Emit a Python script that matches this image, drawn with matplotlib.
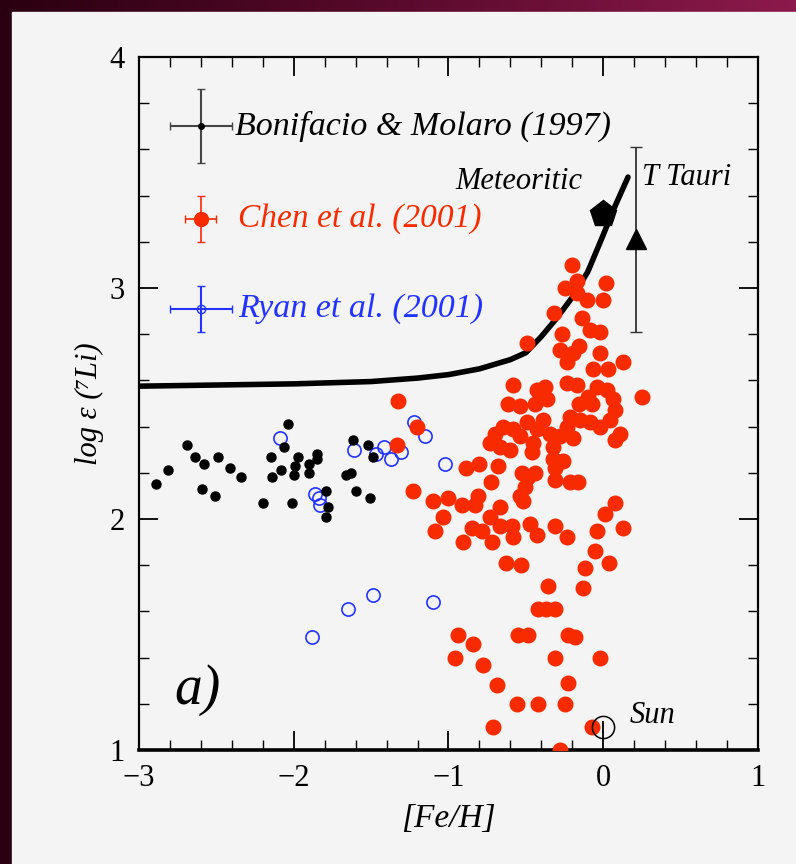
import numpy as np
import matplotlib.pyplot as plt

# Bonifacio & Molaro (1997) halo stars
bm_feh = [-2.89, -2.81, -2.69, -2.64, -2.58, -2.59, -2.51, -2.49, -2.41, -2.34,
          -2.20, -2.15, -2.14, -2.08, -2.06, -2.04, -2.01, -2.00, -1.99, -1.97,
          -1.90, -1.90, -1.85, -1.85, -1.79, -1.78, -1.79, -1.66, -1.63, -1.62,
          -1.60, -1.52, -1.51, -1.49]
bm_li = [2.15, 2.21, 2.32, 2.27, 2.24, 2.13, 2.10, 2.27, 2.22, 2.18,
         2.07, 2.27, 2.18, 2.21, 2.31, 2.41, 2.07, 2.19, 2.23, 2.27,
         2.24, 2.20, 2.28, 2.26, 2.12, 2.05, 2.01, 2.19, 2.20, 2.34,
         2.12, 2.32, 2.09, 2.27]

# Ryan et al. (2001)
ryan_feh = [-2.09, -1.86, -1.84, -1.83, -1.61, -1.47, -1.42, -1.37, -1.31, -1.22,
            -1.15, -1.02, -1.88, -1.65, -1.49, -1.10]
ryan_li = [2.35, 2.11, 2.09, 2.06, 2.30, 2.28, 2.31, 2.26, 2.29, 2.42,
           2.36, 2.24, 1.49, 1.61, 1.67, 1.64]

# Chen et al. (2001) disk stars
chen_feh = [-0.200, -0.168, -0.246, -0.168, -0.103, 0.019, 0.000, -0.317, -0.136, -0.084,
            -0.019, -0.265, -0.491, -0.155, -0.019, -0.278, -0.233, -0.194, 0.129, -0.065,
            0.032, -1.325, -0.582, -0.614, -0.536, -0.426, -0.375, -0.439, -0.362, -0.233,
            -0.168, -0.155, -0.097, -0.039, 0.026, 0.065, 0.078, 0.045, 0.110, 0.078,
            -0.019, -0.084, -0.149, -0.213, -0.233, -0.278, -0.194, -0.342, -0.388, -0.426,
            -0.491, -0.536, -0.582, -0.646, -0.698, -0.730, -0.666, -0.601, -0.459, -0.452,
            -0.323, 0.252, -1.202, -1.331, -0.071, -0.885, -0.801, -0.679, -0.724, -0.523,
            -0.485, -0.439, -0.504, -0.536, -0.323, -0.258, -0.310, -0.213, -0.162, -1.228,
            -1.099, -1.002, -0.911, -0.827, -0.808, -1.034, -1.086, -0.905, -0.847, -0.782,
            -0.730, -0.666, -0.666, -0.717, -0.588, -0.582, -0.472, -0.426, -0.310, -0.233,
            0.078, 0.013, -0.039, 0.129, -0.052, 0.039, -0.116, -0.129, -0.627, -0.530,
            -0.355, -0.517, -0.310, -0.420, -0.368, -0.310, -0.937, -0.840, -0.956, -0.775,
            -0.549, -0.485, -0.226, -0.181, -0.310, -0.019, -0.226, -0.685, -0.556, -0.420,
            -0.246, -0.711, -0.071, -0.278]
chen_li = [3.10, 3.03, 3.00, 2.98, 2.95, 3.02, 2.95, 2.89, 2.87, 2.82,
           2.81, 2.80, 2.76, 2.75, 2.72, 2.73, 2.68, 2.72, 2.68, 2.65,
           2.65, 2.51, 2.58, 2.50, 2.49, 2.56, 2.57, 2.50, 2.52, 2.59,
           2.58, 2.50, 2.53, 2.57, 2.56, 2.52, 2.47, 2.43, 2.37, 2.34,
           2.40, 2.42, 2.43, 2.44, 2.40, 2.36, 2.35, 2.37, 2.43, 2.39,
           2.42, 2.36, 2.39, 2.40, 2.37, 2.33, 2.31, 2.30, 2.29, 2.33,
           2.31, 2.53, 2.40, 2.32, 2.50, 2.22, 2.24, 2.23, 2.16, 2.20,
           2.18, 2.20, 2.14, 2.10, 2.26, 2.25, 2.17, 2.16, 2.16, 2.12,
           2.08, 2.09, 2.06, 2.06, 2.10, 2.01, 1.95, 1.90, 1.96, 1.95,
           2.01, 2.05, 1.97, 1.90, 1.97, 1.92, 1.98, 1.93, 1.97, 1.92,
           2.07, 2.02, 1.95, 1.96, 1.86, 1.81, 1.79, 1.70, 1.81, 1.80,
           1.71, 2.08, 2.22, 1.61, 1.61, 1.61, 1.50, 1.46, 1.40, 1.37,
           1.50, 1.50, 1.50, 1.49, 1.40, 1.40, 1.29, 1.28, 1.20, 1.20,
           1.20, 1.10, 1.10, 1.00]

# galactic evolution model curve
model_feh = [-3.0, -2.5, -2.0, -1.5, -1.2, -1.0, -0.8, -0.6, -0.5, -0.4,
             -0.3, -0.2, -0.1, 0.0, 0.06, 0.16]
model_li = [2.575, 2.58, 2.585, 2.595, 2.61, 2.625, 2.65, 2.69, 2.72, 2.79,
            2.87, 2.96, 3.07, 3.23, 3.33, 3.48]

meteor_feh, meteor_li = 0.0, 3.32
ttauri_feh, ttauri_li, ttauri_err = 0.21, 3.21, 0.40
sun_feh, sun_li = 0.0, 1.10

RED = '#f82a00'
BLUE = '#2233ff'
PANEL = '#f4f4f4'

fig = plt.figure(figsize=(7.96, 8.64), dpi=100)
fig.patch.set_facecolor('#3d0519')

# dark gradient frame behind the white panel
bg = fig.add_axes([0, 0, 1, 1], zorder=-10)
grad = np.linspace(0, 1, 256)[None, :]
bg.imshow(grad, aspect='auto', cmap=plt.matplotlib.colors.LinearSegmentedColormap.from_list(
    'frame', ['#2a0010', '#5a0a2c', '#8c1a4c']), extent=[0, 1, 0, 1])
bg.add_patch(plt.Rectangle((12 / 796, 0), 1, 1 - 12 / 864, color=PANEL,
                           transform=bg.transAxes))
bg.set_xlim(0, 1)
bg.set_ylim(0, 1)
bg.axis('off')

ax = fig.add_axes([139 / 796, 114 / 864, 619 / 796, 693 / 864])
ax.set_facecolor(PANEL)

ax.plot(model_feh, model_li, color='black', lw=4.0, solid_capstyle='round', zorder=3)

ax.plot(ryan_feh, ryan_li, 'o', ms=9.5, mfc='none', mec=BLUE, mew=1.2, zorder=4)
ax.plot(chen_feh, chen_li, 'o', ms=10.5, color=RED, zorder=5)
ax.plot(bm_feh, bm_li, 'o', ms=6.5, color='black', zorder=6)

ax.plot(meteor_feh, meteor_li, 'p', ms=20, color='black', zorder=7)
ax.errorbar(ttauri_feh, ttauri_li, yerr=ttauri_err, fmt='^', ms=15, color='black',
            ecolor='#333333', elinewidth=1.3, capsize=4, zorder=7)
ax.plot(sun_feh, sun_li, 'o', ms=16, mfc='none', mec='black', mew=1.1, zorder=7)
ax.plot(sun_feh, sun_li, '|', ms=9, mew=1.3, color='black', zorder=7)

# legend drawn as sample error crosses
ax.errorbar(-2.6, 3.70, xerr=0.2, yerr=0.16, fmt='o', ms=4, color='black',
            ecolor='#444444', elinewidth=1.5, capsize=3, zorder=6)
ax.errorbar(-2.6, 3.30, xerr=0.1, yerr=0.1, fmt='o', ms=10, color=RED,
            elinewidth=1.2, capsize=3, zorder=6)
ax.errorbar(-2.6, 2.91, xerr=0.2, yerr=0.1, fmt='o', ms=6, mfc='none', mec=BLUE,
            color=BLUE, elinewidth=1.5, capsize=3, zorder=6)

tfont = dict(family='Liberation Serif', style='italic')
ax.text(-2.38, 3.70, 'Bonifacio & Molaro (1997)', fontsize=24.5, va='center', **tfont)
ax.text(-2.36, 3.30, 'Chen et al. (2001)', fontsize=24, va='center', color=RED, **tfont)
ax.text(-2.36, 2.91, 'Ryan et al. (2001)', fontsize=24.5, va='center', color=BLUE, **tfont)
ax.text(-0.956, 3.46, 'Meteoritic', fontsize=22, va='center', **tfont)
ax.text(0.25, 3.48, 'T Tauri', fontsize=22, va='center', **tfont)
ax.text(0.17, 1.15, 'Sun', fontsize=22, va='center', **tfont)
ax.text(-2.62, 1.26, 'a)', fontsize=40, ha='center', va='center', **tfont)

ax.set_xlim(-3, 1)
ax.set_ylim(1, 4)
ax.set_xticks([-3, -2, -1, 0, 1])
ax.set_yticks([1, 2, 3, 4])
ax.set_xticks(np.arange(-3, 1.01, 0.2), minor=True)
ax.set_yticks(np.arange(1, 4.01, 0.2), minor=True)
ax.set_xticklabels(['\u22123', '\u22122', '\u22121', '0', '1'])
ax.tick_params(which='both', direction='in', top=True, right=True, colors='black')
ax.tick_params(which='major', length=14, width=1.3, labelsize=22, pad=10)
ax.tick_params(which='minor', length=7, width=1.0)
for lab in ax.get_xticklabels() + ax.get_yticklabels():
    lab.set_family('Liberation Serif')
for sp in ax.spines.values():
    sp.set_linewidth(1.6)
ax.spines['bottom'].set_linewidth(2.6)

ax.set_xlabel('[Fe/H]', fontsize=24, labelpad=8, **tfont)
ax.set_ylabel('log \u03b5 (\u2077Li)', fontsize=22, labelpad=4, **tfont)

fig.savefig('out.png', dpi=100, facecolor=fig.get_facecolor())
